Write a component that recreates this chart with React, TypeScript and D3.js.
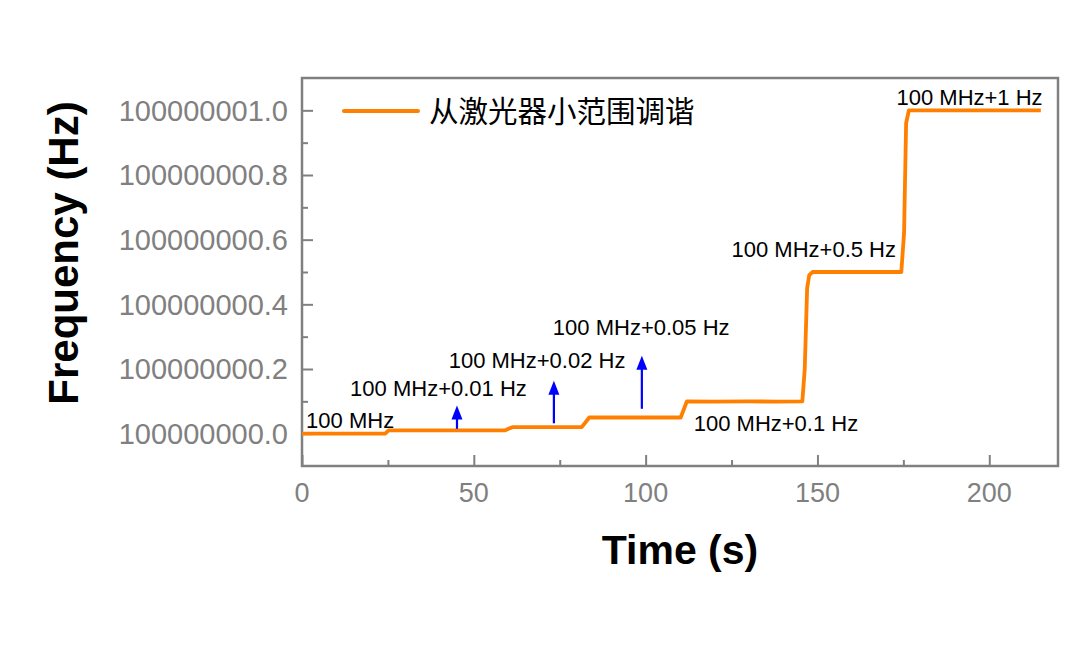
import React, { useRef, useEffect } from "react";
import * as d3 from "d3";

// frequency = 100 MHz + offset (Hz)
const BASE_FREQ = 100000000;

const times = [0, 12, 24.2, 25.2, 40, 59.0, 61.2, 72, 81.4, 83.6, 97, 110.2, 112.0, 120, 130, 138, 145.6, 146.3, 147.0, 147.6, 148.6, 160, 174.4, 175.2, 175.8, 176.6, 190, 215];
const offsets = [0, 0, 0, 0.01, 0.01, 0.01, 0.02, 0.02, 0.02, 0.05, 0.05, 0.05, 0.1, 0.099, 0.1, 0.099, 0.1, 0.2, 0.45, 0.49, 0.5, 0.5, 0.5, 0.62, 0.96, 1.0, 1.0, 1.0];

const xTicks = [0, 50, 100, 150, 200];
const xMinorTicks = [25, 75, 125, 175];
const yTicks = [0, 0.2, 0.4, 0.6, 0.8, 1.0];
const yMinorTicks = [0.1, 0.3, 0.5, 0.7, 0.9];

const noteTexts = ["100 MHz", "100 MHz+0.01 Hz", "100 MHz+0.02 Hz", "100 MHz+0.05 Hz", "100 MHz+0.1 Hz", "100 MHz+0.5 Hz", "100 MHz+1 Hz"];
const noteTimes = [1.2, 14, 42.7, 73, 114, 125, 173];
const noteOffsets = [0.019, 0.115, 0.204, 0.306, 0.009, 0.545, 1.015];

const arrowTimes = [45.1, 73.3, 98.9];
const arrowFrom = [0.015, 0.032, 0.077];
const arrowTo = [0.087, 0.164, 0.241];

const legendLabel = "从激光器小范围调谐";

const App: React.FC = () => {
  const svgRef = useRef<SVGSVGElement>(null);

  useEffect(() => {
    if (!svgRef.current) return;
    const width = 1080;
    const height = 648;
    const margin = { top: 78, right: 22, bottom: 182, left: 302 };
    const gray = "#808080";
    const font = "'Liberation Sans', Arial, sans-serif";

    const svg = d3.select(svgRef.current).attr("width", width).attr("height", height);
    svg.selectAll("*").remove();

    const x = d3.scaleLinear().domain([0, 220]).range([margin.left, width - margin.right]);
    const y = d3.scaleLinear().domain([-0.1, 1.1]).range([height - margin.bottom, margin.top]);

    // ticks (inward)
    const xAxis = d3.axisBottom(x).tickValues(xTicks).tickSize(-11).tickFormat(() => "");
    const xMinor = d3.axisBottom(x).tickValues(xMinorTicks).tickSize(-6).tickFormat(() => "");
    const yAxis = d3.axisLeft(y).tickValues(yTicks).tickSize(-11).tickFormat(() => "");
    const yMinor = d3.axisLeft(y).tickValues(yMinorTicks).tickSize(-6).tickFormat(() => "");

    [xAxis, xMinor].forEach((ax) => {
      const g = svg.append("g").attr("transform", `translate(0,${height - margin.bottom})`).call(ax);
      g.select(".domain").remove();
      g.selectAll("line").attr("stroke", gray).attr("stroke-width", 2);
    });
    [yAxis, yMinor].forEach((ax) => {
      const g = svg.append("g").attr("transform", `translate(${margin.left},0)`).call(ax);
      g.select(".domain").remove();
      g.selectAll("line").attr("stroke", gray).attr("stroke-width", 2);
    });

    // tick labels
    svg
      .append("g")
      .selectAll("text")
      .data(xTicks)
      .enter()
      .append("text")
      .attr("x", (d) => x(d))
      .attr("y", 502)
      .attr("text-anchor", "middle")
      .attr("font-family", font)
      .attr("font-size", 27)
      .attr("fill", gray)
      .text((d) => d);

    svg
      .append("g")
      .selectAll("text")
      .data(yTicks)
      .enter()
      .append("text")
      .attr("x", 288)
      .attr("y", (d) => y(d))
      .attr("dy", "0.36em")
      .attr("text-anchor", "end")
      .attr("font-family", font)
      .attr("font-size", 29)
      .attr("fill", gray)
      .text((d) => (BASE_FREQ + d).toFixed(1));

    // frame
    svg
      .append("rect")
      .attr("x", margin.left)
      .attr("y", margin.top)
      .attr("width", width - margin.left - margin.right)
      .attr("height", height - margin.top - margin.bottom)
      .attr("fill", "none")
      .attr("stroke", gray)
      .attr("stroke-width", 2.5);

    // data line
    const line = d3
      .line<number>()
      .x((_, i) => x(times[i]))
      .y((d) => y(d));
    svg
      .append("path")
      .attr("d", line(offsets))
      .attr("fill", "none")
      .attr("stroke", "#ff8000")
      .attr("stroke-width", 3.8)
      .attr("stroke-linejoin", "round");

    // arrows
    arrowTimes.forEach((t, i) => {
      const ax = x(t);
      const y0 = y(arrowFrom[i]);
      const y1 = y(arrowTo[i]);
      svg
        .append("line")
        .attr("x1", ax)
        .attr("x2", ax)
        .attr("y1", y0)
        .attr("y2", y1 + 12)
        .attr("stroke", "#0000ff")
        .attr("stroke-width", 2.2);
      svg
        .append("path")
        .attr("d", `M${ax},${y1} L${ax - 5.5},${y1 + 14} L${ax + 5.5},${y1 + 14} Z`)
        .attr("fill", "#0000ff");
    });

    // annotations
    svg
      .append("g")
      .selectAll("text")
      .data(noteTexts)
      .enter()
      .append("text")
      .attr("x", (_, i) => x(noteTimes[i]))
      .attr("y", (_, i) => y(noteOffsets[i]))
      .attr("font-family", font)
      .attr("font-size", 22)
      .attr("fill", "#000")
      .text((d) => d);

    // legend
    svg
      .append("line")
      .attr("x1", 344)
      .attr("x2", 418)
      .attr("y1", 111)
      .attr("y2", 111)
      .attr("stroke", "#ff8000")
      .attr("stroke-width", 4)
      .attr("stroke-linecap", "round");
    svg
      .append("text")
      .attr("x", 429)
      .attr("y", 111)
      .attr("dy", "0.36em")
      .attr("font-family", "'Noto Sans CJK SC', sans-serif")
      .attr("font-size", 29.5)
      .attr("fill", "#000")
      .text(legendLabel);

    // axis titles
    svg
      .append("text")
      .attr("x", 680)
      .attr("y", 564)
      .attr("text-anchor", "middle")
      .attr("font-family", font)
      .attr("font-weight", "bold")
      .attr("font-size", 41)
      .attr("fill", "#000")
      .text("Time (s)");
    svg
      .append("text")
      .attr("transform", "translate(78,253) rotate(-90)")
      .attr("text-anchor", "middle")
      .attr("font-family", font)
      .attr("font-weight", "bold")
      .attr("font-size", 42)
      .attr("fill", "#000")
      .text("Frequency (Hz)");
  }, []);

  return <svg ref={svgRef} style={{ position: "absolute", left: 0, top: 0 }}></svg>;
};

export default App;
